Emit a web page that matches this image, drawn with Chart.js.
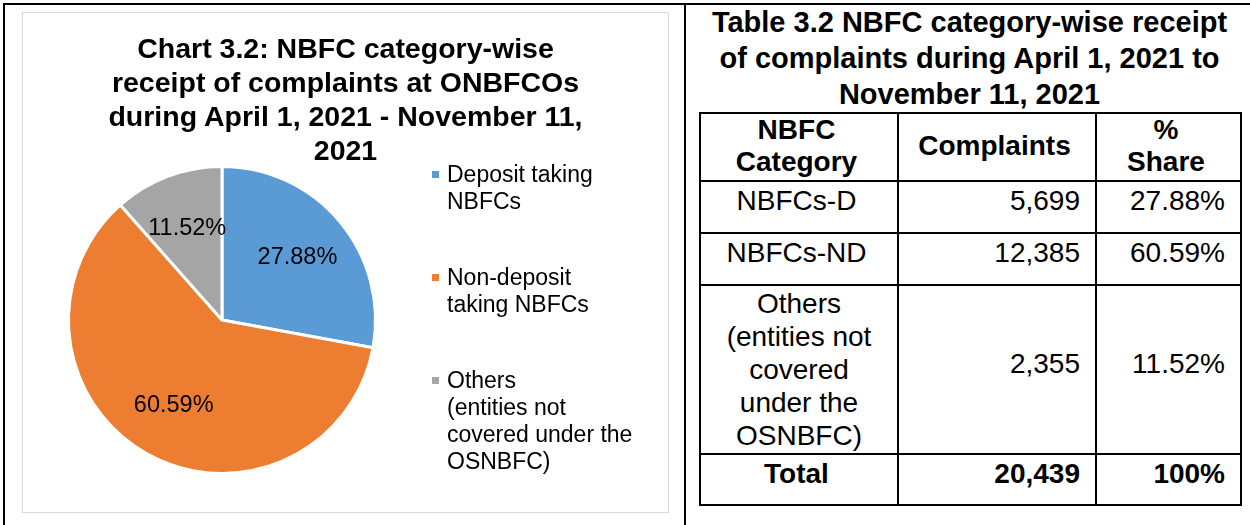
<!DOCTYPE html>
<html>
<head>
<meta charset="utf-8">
<script src="https://cdn.jsdelivr.net/npm/chart.js@4.4.0/dist/chart.umd.min.js"></script>
<style>
  body { margin: 0; width: 1250px; height: 525px; overflow: hidden; background: #fff;
         font-family: "Liberation Sans", Arial, sans-serif; color: #000; }
  #frame { position: absolute; left: 3px; top: 3px; width: 1300px; height: 600px;
           border-top: 2px solid #000; border-left: 2px solid #000; }
  #divider { position: absolute; left: 684px; top: 3px; width: 2px; height: 530px; background: #000; }
  #panel { position: absolute; left: 22px; top: 12px; width: 645px; height: 499px; border: 1.5px solid #d9d9d9; }
  #pieCanvas { position: absolute; left: 0; top: 0; }
  #chartTitle { position: absolute; left: 23px; width: 645px; top: 31px; text-align: center;
                font-weight: bold; font-size: 28.5px; line-height: 34px; }
  #legend { position: absolute; left: 432px; top: 161px; font-size: 23px; line-height: 27px; }
  .item { position: relative; padding-left: 15px; margin-bottom: 49px; }
  .swatch { position: absolute; left: 0; top: 10px; width: 7px; height: 7px; }
  #tableTitle { position: absolute; left: 700px; width: 539px; top: 4px; text-align: center;
                font-weight: bold; font-size: 29px; line-height: 36px; }
  #dataTable { position: absolute; left: 699px; top: 112px; width: 541px; table-layout: fixed;
               border-collapse: collapse; font-size: 28px; }
  #dataTable td { box-sizing: border-box; border: 2px solid #000; padding: 0 15px 12px 10px;
                  vertical-align: middle; line-height: 32px; }
  #dataTable td.c { text-align: center; }
  #dataTable td.r { text-align: right; }
  #dataTable td.tall { padding: 0 6px; line-height: 33px; }
  #dataTable tr.head td { font-weight: bold; padding-bottom: 2px; }
  #dataTable tr.total td { font-weight: bold; }
</style>
</head>
<body>
<div id="frame"></div>
<div id="divider"></div>
<div id="panel"></div>
<canvas id="pieCanvas" width="685" height="525"></canvas>
<div id="chartTitle"></div>
<div id="legend"></div>
<div id="tableTitle"></div>
<table id="dataTable"><colgroup id="cols"></colgroup><tbody id="tableBody"></tbody></table>

<script>
const chartTitle = ["Chart 3.2: NBFC category-wise", "receipt of complaints at ONBFCOs", "during April 1, 2021 - November 11,", "2021"];
const categories = [["Deposit taking", "NBFCs"], ["Non-deposit", "taking NBFCs"], ["Others", "(entities not", "covered under the", "OSNBFC)"]];
const shares = [27.88, 60.59, 11.52];
const colors = ["#5B9BD5", "#ED7D31", "#A5A5A5"];

const tableTitle = ["Table 3.2 NBFC category-wise receipt", "of complaints during April 1, 2021 to", "November 11, 2021"];
const tableHeaders = [["NBFC", "Category"], ["Complaints"], ["%", "Share"]];
const tableCategories = [["NBFCs-D"], ["NBFCs-ND"], ["Others", "(entities not", "covered", "under the", "OSNBFC)"]];
const complaints = [5699, 12385, 2355];
const totalComplaints = 20439;
const totalShare = "100%";

const columnWidths = [198, 198, 145];
const rowHeights = [68, 52, 52, 169, 51];

// percentage labels inside the slices
const sliceLabels = {
  id: 'sliceLabels',
  afterDatasetsDraw(chart) {
    const ctx = chart.ctx;
    const meta = chart.getDatasetMeta(0);
    ctx.save();
    ctx.font = '23.5px "Liberation Sans", Arial, sans-serif';
    ctx.fillStyle = '#000';
    ctx.textAlign = 'center';
    ctx.textBaseline = 'middle';
    meta.data.forEach((arc, i) => {
      const p = arc.getProps(['x', 'y', 'startAngle', 'endAngle', 'outerRadius'], true);
      const mid = (p.startAngle + p.endAngle) / 2;
      const r = p.outerRadius * 0.64;
      ctx.fillText(shares[i].toFixed(2) + '%', p.x + Math.cos(mid) * r, p.y + Math.sin(mid) * r);
    });
    ctx.restore();
  }
};

new Chart(document.getElementById('pieCanvas').getContext('2d'), {
  type: 'pie',
  data: {
    labels: categories,
    datasets: [{
      data: shares,
      backgroundColor: colors,
      borderColor: '#fff',
      borderWidth: 3
    }]
  },
  options: {
    responsive: false,
    animation: false,
    layout: { padding: { left: 67, top: 165, right: 308, bottom: 50 } },
    plugins: {
      legend: { display: false },
      tooltip: { enabled: false }
    }
  },
  plugins: [sliceLabels]
});

document.getElementById('chartTitle').innerHTML = chartTitle.join('<br>');
document.getElementById('tableTitle').innerHTML = tableTitle.join('<br>');

const legend = document.getElementById('legend');
categories.forEach((lines, i) => {
  const item = document.createElement('div');
  item.className = 'item';
  const sw = document.createElement('span');
  sw.className = 'swatch';
  sw.style.background = colors[i];
  item.appendChild(sw);
  const txt = document.createElement('div');
  txt.innerHTML = lines.join('<br>');
  item.appendChild(txt);
  legend.appendChild(item);
});

const cols = document.getElementById('cols');
columnWidths.forEach(w => {
  const col = document.createElement('col');
  col.style.width = w + 'px';
  cols.appendChild(col);
});

const body = document.getElementById('tableBody');
function addRow(cells, cls, height) {
  const row = document.createElement('tr');
  if (cls) row.className = cls;
  row.style.height = height + 'px';
  cells.forEach(c => {
    const td = document.createElement('td');
    td.className = c.align;
    if (c.tall) td.classList.add('tall');
    td.innerHTML = c.text;
    row.appendChild(td);
  });
  body.appendChild(row);
}

addRow(tableHeaders.map(h => ({ text: h.join('<br>'), align: 'c' })), 'head', rowHeights[0]);
tableCategories.forEach((cat, i) => {
  addRow([
    { text: cat.join('<br>'), align: 'c', tall: cat.length > 1 },
    { text: complaints[i].toLocaleString('en-US'), align: 'r' },
    { text: shares[i].toFixed(2) + '%', align: 'r' }
  ], '', rowHeights[i + 1]);
});
addRow([
  { text: 'Total', align: 'c' },
  { text: totalComplaints.toLocaleString('en-US'), align: 'r' },
  { text: totalShare, align: 'r' }
], 'total', rowHeights[4]);
</script>
</body>
</html>
